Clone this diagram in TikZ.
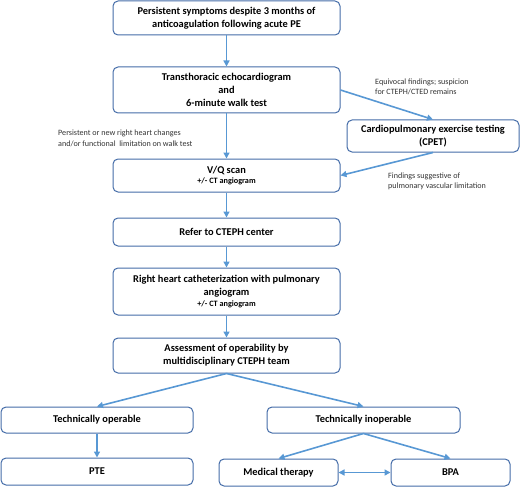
\documentclass[tikz,border=0pt]{standalone}
\usepackage{fontspec}
\setmainfont{Carlito}
\usetikzlibrary{arrows.meta}
\definecolor{boxc}{RGB}{68,108,168}
\definecolor{arrc}{RGB}{88,152,212}
\tikzset{
  box/.style={draw=boxc, line width=1pt, rounded corners=5pt, fill=white, align=center,
    font=\fontsize{10.4}{12.8}\selectfont\bfseries, inner sep=0pt},
  lbl/.style={align=left, anchor=west, font=\fontsize{8.1}{10.5}\selectfont, inner sep=0pt, text=black!80},
  arr/.style={draw=arrc, line width=1.6pt, -{Triangle[length=6pt,width=6pt]}},
  darr/.style={draw=arrc, line width=1.6pt, {Triangle[length=6pt,width=6pt]}-{Triangle[length=6pt,width=6pt]}}
}
\newcommand{\smallsub}[1]{{\fontsize{8.2}{9.5}\selectfont #1}}
\begin{document}
\begin{tikzpicture}[x=1pt,y=-1pt]
\useasboundingbox (0,0) rectangle (520,487);
\node[box, minimum width=227pt, minimum height=34pt] (b1) at (226.5,18) {Persistent symptoms despite 3 months of\\anticoagulation following acute PE};
\node[box, minimum width=227pt, minimum height=46pt] (b2) at (226.5,90) {Transthoracic echocardiogram\\and\\6-minute walk test};
\node[box, minimum width=172pt, minimum height=32pt] (cpet) at (433,136) {Cardiopulmonary exercise testing\\(CPET)};
\node[box, minimum width=227pt, minimum height=33pt] (vq) at (226.5,175.5) {V/Q scan\\[-2pt]\smallsub{+/- CT angiogram}};
\node[box, minimum width=227pt, minimum height=28pt] (refer) at (226.5,232) {Refer to CTEPH center};
\node[box, minimum width=227pt, minimum height=47pt] (rhc) at (226.5,291.5) {Right heart catheterization with pulmonary\\angiogram\\[-2pt]\smallsub{+/- CT angiogram}};
\node[box, minimum width=227pt, minimum height=35pt] (assess) at (226.5,355.5) {Assessment of operability by\\multidisciplinary CTEPH team};
\node[box, minimum width=192pt, minimum height=26pt] (to) at (97,420) {Technically operable};
\node[box, minimum width=193pt, minimum height=26pt] (ti) at (363.5,420) {Technically inoperable};
\node[box, minimum width=192pt, minimum height=27pt] (pte) at (97,471.5) {PTE};
\node[box, minimum width=119pt, minimum height=27pt] (med) at (278.5,472.5) {Medical therapy};
\node[box, minimum width=119pt, minimum height=27pt] (bpa) at (450.5,472.5) {BPA};

\node[lbl] (l1) at (375,87) {Equivocal findings; suspicion\\for CTEPH/CTED remains};
\node[lbl] (l2) at (58,138.5) {Persistent or new right heart changes\\and/or functional\ \ limitation on walk test};
\node[lbl] (l3) at (388,181.5) {Findings suggestive of\\pulmonary vascular limitation};

\draw[arr] (b1) -- (b2);
\draw[arr] (b2) -- (vq);
\draw[arr] (b2.east) -- (cpet.north);
\draw[arr] (cpet.south) -- (vq.east);
\draw[arr] (vq) -- (refer);
\draw[arr] (refer) -- (rhc);
\draw[arr] (rhc) -- (assess);
\draw[arr] (assess.south) -- (to.north);
\draw[arr] (assess.south) -- (ti.north);
\draw[arr] (to) -- (pte);
\draw[arr] (ti.south) -- (med.north);
\draw[arr] (ti.south) -- (bpa.north);
\draw[darr] (med) -- (bpa);
\end{tikzpicture}
\end{document}
